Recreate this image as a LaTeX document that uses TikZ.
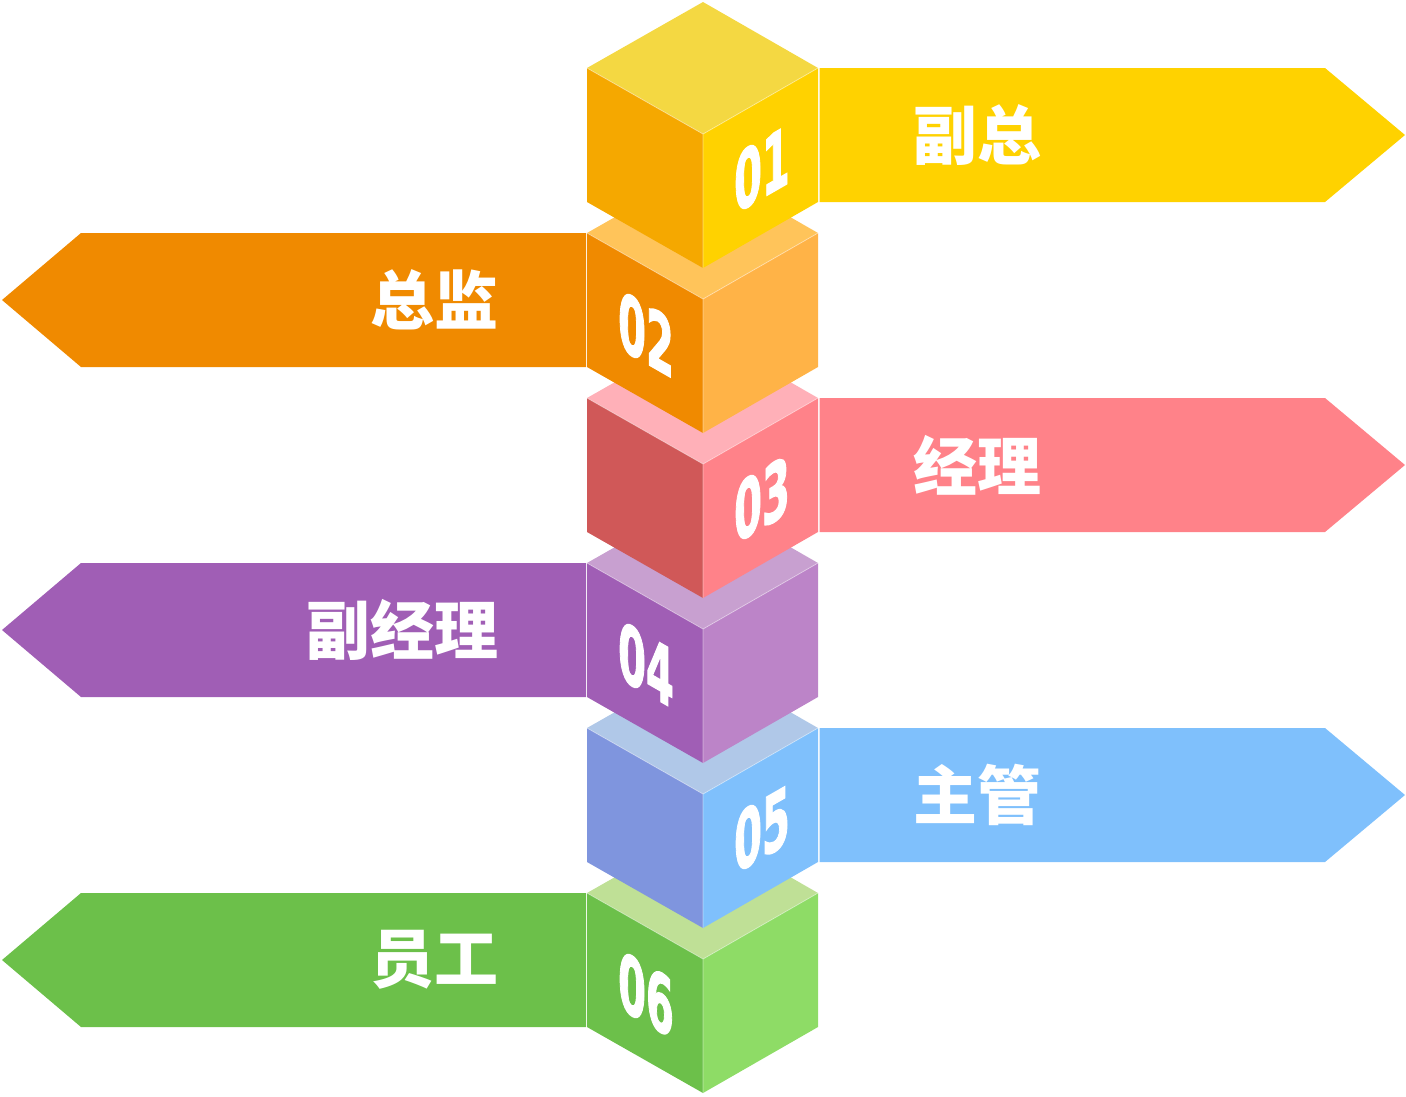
\documentclass[tikz,border=0pt]{standalone}
\usepackage{fontspec}
\newfontfamily\cjk{Noto Sans CJK SC}
\newfontfamily\numfont{DejaVu Sans}[BoldFeatures={FakeBold=2}]
\definecolor{c1t}{HTML}{F4D842}\definecolor{c1l}{HTML}{F5A800}\definecolor{c1r}{HTML}{FFD200}
\definecolor{c2t}{HTML}{FFC45A}\definecolor{c2l}{HTML}{F08A00}\definecolor{c2r}{HTML}{FFB347}
\definecolor{c3t}{HTML}{FFB0B8}\definecolor{c3l}{HTML}{D05858}\definecolor{c3r}{HTML}{FF8289}
\definecolor{c4t}{HTML}{C8A0D0}\definecolor{c4l}{HTML}{A05EB5}\definecolor{c4r}{HTML}{BC84C8}
\definecolor{c5t}{HTML}{B0C8E8}\definecolor{c5l}{HTML}{7F95DE}\definecolor{c5r}{HTML}{7FC0FC}
\definecolor{c6t}{HTML}{BFE096}\definecolor{c6l}{HTML}{6CC04A}\definecolor{c6r}{HTML}{8EDC66}
\begin{document}
\begin{tikzpicture}[x=1pt,y=-1pt,
  lbl/.style={text=white,font=\cjk\bfseries\fontsize{64}{64}\selectfont,inner sep=0},
  num/.style={text=white,font=\numfont\bfseries\fontsize{80}{80}\selectfont,inner sep=0,transform shape},
  faceedge/.style={white,opacity=0.45,line width=0.8pt}]
\useasboundingbox (0,0) rectangle (1406,1096);
% arrows
\foreach \k/\c in {0/c1r,2/c3r,4/c5r}{
  \fill[\c] (819.5,68+165*\k) -- (1325,68+165*\k) -- (1405,135+165*\k) -- (1325,202+165*\k) -- (819.5,202+165*\k) -- cycle;
}
\foreach \k/\c in {1/c2l,3/c4l,5/c6l}{
  \fill[\c] (586,68+165*\k) -- (81,68+165*\k) -- (2,135+165*\k) -- (81,202+165*\k) -- (586,202+165*\k) -- cycle;
}
% cubes, bottom to top
\foreach \k/\ct/\cl/\cr in {5/c6t/c6l/c6r,4/c5t/c5l/c5r,3/c4t/c4l/c4r,2/c3t/c3l/c3r,1/c2t/c2l/c2r,0/c1t/c1l/c1r}{
  \begin{scope}[shift={(0,165*\k)}]
    \fill[\ct] (703,2) -- (818,68) -- (703,134) -- (587,68) -- cycle;
    \fill[\cl] (587,68) -- (703,134) -- (703,268) -- (587,202) -- cycle;
    \fill[\cr] (703,134) -- (818,68) -- (818,202) -- (703,268) -- cycle;
    \draw[faceedge] (587,68) -- (703,134) -- (818,68) (703,134) -- (703,268);
  \end{scope}
}
% numbers
\begin{scope}[shift={(762,169)}]\node[num,yslant=0.574,xscale=0.5] (n1) at (0,0) {01};\end{scope}
\begin{scope}[shift={(646,334)}]\node[num,yslant=-0.574,xscale=0.5] (n2) at (0,0) {02};\end{scope}
\begin{scope}[shift={(762,499)}]\node[num,yslant=0.574,xscale=0.5] (n3) at (0,0) {03};\end{scope}
\begin{scope}[shift={(646,664)}]\node[num,yslant=-0.574,xscale=0.5] (n4) at (0,0) {04};\end{scope}
\begin{scope}[shift={(762,829)}]\node[num,yslant=0.574,xscale=0.5] (n5) at (0,0) {05};\end{scope}
\begin{scope}[shift={(646,994)}]\node[num,yslant=-0.574,xscale=0.5] (n6) at (0,0) {06};\end{scope}
% labels
\node[lbl,anchor=west] (l1) at (913,135) {副总};
\node[lbl,anchor=east] (l2) at (499,300) {总监};
\node[lbl,anchor=west] (l3) at (913,465) {经理};
\node[lbl,anchor=east] (l4) at (499,630) {副经理};
\node[lbl,anchor=west] (l5) at (913,795) {主管};
\node[lbl,anchor=east] (l6) at (499,960) {员工};
\end{tikzpicture}
\end{document}
